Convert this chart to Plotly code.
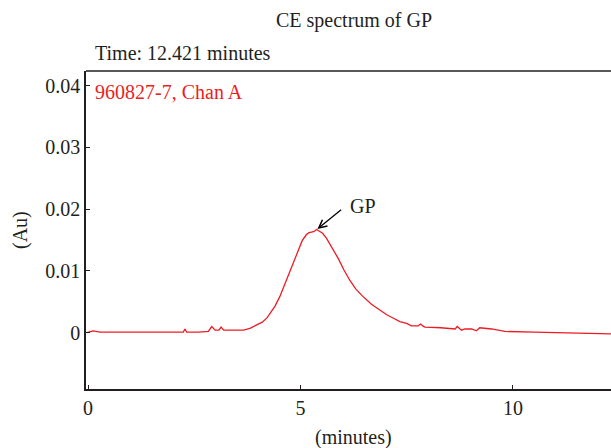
import plotly.graph_objects as go

# Migration time (minutes) and absorbance (Au)
time_min = [-0.03, 0.12, 0.28, 0.6, 1.14, 1.30, 1.42, 1.8, 2.24, 2.28, 2.32, 2.6, 2.83, 2.91, 2.99,
            3.08, 3.13, 3.19, 3.45, 3.66, 3.81, 3.97, 4.10, 4.21, 4.28, 4.40, 4.51, 4.61, 4.71,
            4.83, 4.94, 5.04, 5.14, 5.20, 5.26, 5.32, 5.38, 5.45, 5.52, 5.61, 5.75, 5.89, 6.02,
            6.16, 6.30, 6.45, 6.67, 6.85, 7.03, 7.20, 7.34, 7.50, 7.61, 7.77, 7.83, 7.88, 7.93,
            8.30, 8.64, 8.69, 8.79, 8.87, 9.03, 9.14, 9.22, 9.50, 9.69, 9.81, 10.5, 11.5, 12.31]
absorbance = [0.0000, 0.0003, 0.0001, 0.0001, 0.0001, 0.0002, 0.0001, 0.0001, 0.0001, 0.0006,
              0.0001, 0.0001, 0.0002, 0.0010, 0.0004, 0.0004, 0.0009, 0.0004, 0.0004, 0.0004,
              0.0007, 0.0012, 0.0017, 0.0024, 0.0031, 0.0043, 0.0058, 0.0075, 0.0093, 0.0114,
              0.0134, 0.0149, 0.0159, 0.0162, 0.0163, 0.0164, 0.0167, 0.0164, 0.0161, 0.0153,
              0.0137, 0.0120, 0.0102, 0.0085, 0.0071, 0.0060, 0.0046, 0.0037, 0.0029, 0.0023,
              0.0018, 0.0015, 0.0011, 0.0011, 0.0014, 0.0011, 0.0009, 0.0008, 0.0006, 0.0010,
              0.0004, 0.0006, 0.0006, 0.0003, 0.0008, 0.0006, 0.0004, 0.0002, 0.0001, 0.0000,
              -0.0002]

x_ticks = [0, 5, 10]
x_tick_labels = ["0", "5", "10"]
y_ticks = [0, 0.01, 0.02, 0.03, 0.04]
y_tick_labels = ["0", "0.01", "0.02", "0.03", "0.04"]

peak_label = "GP"
peak_time = 5.38
peak_value = 0.0167

TXT = "#231f20"
RED = "#ed1c24"
FONT = "Liberation Serif"
FS = 20

fig = go.Figure()
fig.add_trace(go.Scatter(x=time_min, y=absorbance, mode="lines",
                         line=dict(color=RED, width=1.3), showlegend=False, hoverinfo="skip"))

fig.update_layout(
    width=611, height=448,
    margin=dict(l=86, r=0, t=71, b=59),
    paper_bgcolor="white", plot_bgcolor="white",
    font=dict(family=FONT, size=FS, color=TXT),
    xaxis=dict(range=[-0.05, 12.31], tickvals=x_ticks, ticktext=x_tick_labels,
               ticks="inside", ticklen=4, tickcolor=TXT, tickwidth=1,
               showline=True, linecolor=TXT, linewidth=1.5, mirror=False,
               showgrid=False, zeroline=False, tickfont=dict(size=FS)),
    yaxis=dict(range=[-0.00912, 0.04238], tickvals=y_ticks, ticktext=y_tick_labels,
               ticks="inside", ticklen=4, tickcolor=TXT, tickwidth=1,
               showline=True, linecolor=TXT, linewidth=1.5, mirror=False,
               showgrid=False, zeroline=False, tickfont=dict(size=FS)),
    shapes=[dict(type="line", xref="paper", yref="paper", x0=0, x1=1, y0=1, y1=1,
                 line=dict(color=TXT, width=1.5))],
    annotations=[
        dict(text="CE spectrum of GP", xref="paper", yref="paper", x=0.51, y=1,
             yshift=51, xanchor="center", yanchor="middle", showarrow=False,
             font=dict(size=FS, color=TXT)),
        dict(text="Time: 12.421 minutes", xref="paper", yref="paper", x=0, y=1,
             xshift=7, yshift=18, xanchor="left", yanchor="middle", showarrow=False,
             font=dict(size=FS, color=TXT)),
        dict(text="960827-7, Chan A", xref="paper", yref="paper", x=0, y=1,
             xshift=7, yshift=-21, xanchor="left", yanchor="middle", showarrow=False,
             font=dict(size=FS, color=RED)),
        dict(text="(minutes)", xref="paper", yref="paper", x=0.51, y=0,
             yshift=-48, xanchor="center", yanchor="middle", showarrow=False,
             font=dict(size=FS, color=TXT)),
        dict(text="(Au)", xref="paper", yref="paper", x=0, y=0.5,
             xshift=-66, xanchor="center", yanchor="middle", showarrow=False, textangle=-90,
             font=dict(size=FS, color=TXT)),
        dict(text="", x=peak_time, y=peak_value, ax=26, ay=-21, showarrow=True,
             arrowhead=5, arrowsize=1.2, arrowwidth=1.3, arrowcolor="black", standoff=1),
        dict(text=peak_label, x=peak_time, y=peak_value, xshift=46, yshift=24,
             showarrow=False, xanchor="center", yanchor="middle",
             font=dict(size=FS, color=TXT)),
    ],
)

fig.write_html("out.html")
